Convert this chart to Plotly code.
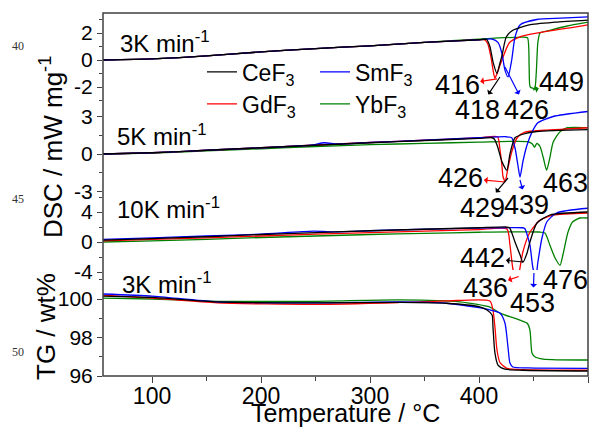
import plotly.graph_objects as go

# ---------------- data ----------------
# 3 K/min DSC
T_3K_Ce = [55,100,150,200,250,300,350,400,407,410,413,416.5,419,421,425,431,446,470,500]
D_3K_Ce = [0,0.08,0.3,0.6,0.85,1.05,1.3,1.5,1.52,1.0,-0.2,-1.0,-0.3,0.3,1.7,2.2,2.6,2.8,2.96]
T_3K_Gd = [55,100,150,200,250,300,350,400,405,408,411,413,414.6,417,421,428,437,450,468,485,500]
D_3K_Gd = [0,0.08,0.3,0.6,0.85,1.05,1.3,1.5,1.5,1.2,0.2,-0.8,-1.35,-0.9,0.0,1.3,1.7,1.95,2.2,2.4,2.6]
T_3K_Sm = [55,100,150,200,250,300,350,400,412,417.4,421,423.8,426.6,430,433,437.6,453,475,500]
D_3K_Sm = [0,0.08,0.3,0.6,0.85,1.05,1.3,1.5,1.55,1.3,0.5,-0.75,-1.25,0.0,1.7,2.6,3.0,3.1,3.2]
T_3K_Yb = [55,100,150,200,250,300,350,400,440,444.5,446,447,451,452.5,454,456,465,480,500]
D_3K_Yb = [0,0.08,0.3,0.6,0.85,1.05,1.3,1.55,1.7,1.65,-0.5,-2.0,-2.1,-1.0,1.3,2.0,2.2,2.5,2.8]

# 5 K/min DSC
T_5K_Ce = [55,100,150,200,250,300,350,400,412,414,417,421,425.6,428.4,433,441,453,500]
D_5K_Ce = [0,0.1,0.3,0.5,0.7,0.9,1.08,1.25,1.3,1.2,0.6,-0.6,-1.3,0,1.3,1.6,1.8,1.95]
T_5K_Gd = [55,100,150,200,250,300,350,400,417,419,421,422,424,426.6,430,435,442,460,480,500]
D_5K_Gd = [0,0.1,0.3,0.5,0.72,0.92,1.1,1.3,1.38,0.5,-0.9,-1.8,-2.2,-1.1,0.16,1.3,1.75,1.9,2.0,2.1]
T_5K_Sm = [55,100,150,200,245,258,270,300,350,400,425,430,433,435.7,437.6,440.3,444,448.6,454,468,500]
D_5K_Sm = [0,0.1,0.3,0.5,0.7,0.9,0.8,0.92,1.1,1.3,1.38,1.3,0.5,-0.9,-1.85,-0.6,0.7,1.75,2.5,3.0,3.4]
T_5K_Yb = [55,100,150,200,250,300,350,400,445,449,451,453,456,459,462,465,468,474,481,500]
D_5K_Yb = [0,0.08,0.25,0.42,0.6,0.75,0.85,0.95,0.98,0.8,0.55,0.85,0.6,-0.3,-1.3,-0.3,0.95,1.75,2.1,2.1]

# 10 K/min DSC
T_10K_Ce = [55,100,150,200,250,300,350,400,425,428,433,437.6,440.3,444,446.7,453,465,500]
D_10K_Ce = [0.25,0.45,0.7,1.0,1.25,1.5,1.7,1.9,2.0,1.9,0,-1.7,-2.7,-1.5,0,2.5,3.6,4.0]
T_10K_Gd = [55,100,150,200,250,300,350,400,425.6,428.4,431,434.8,436.5,440.3,446.7,455.8,468,500]
D_10K_Gd = [0.15,0.35,0.55,0.8,1.05,1.25,1.45,1.65,1.75,-0.4,-3.5,-5.5,-4.4,-1.3,1.3,2.9,3.6,3.87]
T_10K_Sm = [55,100,150,200,248,265,300,350,400,440,442,446.7,449.5,452.2,454,457.7,462.3,471.5,500]
D_10K_Sm = [0.35,0.55,0.8,1.05,1.45,1.35,1.5,1.7,1.85,1.9,1.8,-0.4,-3.5,-4.6,-2.7,0.5,2.7,3.9,4.5]
T_10K_Yb = [55,100,150,200,250,300,350,400,455,460.5,465,469.7,474.3,477,481.6,486,492.6,500]
D_10K_Yb = [0,0.15,0.35,0.6,0.8,1.0,1.15,1.3,1.33,1.2,-0.4,-2.1,-3.1,-1.7,1.3,2.7,3.2,3.2]

# 3 K/min TG
T_TG_Ce = [55,100,160,250,327,370,400,407.3,412,412.8,414.6,417.4,423.8,440,500]
W_TG_Ce = [100.15,100.08,99.85,99.8,99.82,99.78,99.6,99.43,99.17,98.55,97.2,96.57,96.36,96.3,96.26]
T_TG_Gd = [55,100,160,250,327,370,410,412.8,414.6,416.5,419.2,425.6,440,500]
W_TG_Gd = [100.2,100.05,99.8,99.72,99.82,99.9,99.9,99.43,98.55,97.35,96.7,96.4,96.33,96.3]
T_TG_Sm = [55,100,160,250,327,370,400,410,419.2,423.8,426.6,428.4,431,445,500]
W_TG_Sm = [100.26,100.15,99.85,99.8,99.85,99.78,99.55,99.43,99.27,98.75,97.5,96.67,96.47,96.42,96.4]
T_TG_Yb = [55,100,160,250,327,382.5,410,419.2,437.6,444,446.7,448.6,451.3,458.7,500]
W_TG_Yb = [100.05,100.0,99.88,99.88,99.95,99.85,99.58,99.27,98.9,98.75,98.4,97.2,97.0,96.88,96.83]

series_names = ["CeF<sub>3</sub>", "SmF<sub>3</sub>", "GdF<sub>3</sub>", "YbF<sub>3</sub>"]
x_ticks = [100, 200, 300, 400, 500]

# peak labels: (text, label_x, label_y, axis, arrow_tail_x, arrow_tail_y, colour or None)
peak_labels = [
    ("416", 380, -1.85, "y", 416.5, -1.4, "#ff0000"),
    ("418", 399, -3.7, "y", 419.2, -1.26, "#000000"),
    ("426", 444, -3.7, "y", 423.8, -0.52, "#0000ff"),
    ("449", 476, -1.63, "y", 449.5, -2.22, "#008000"),
    ("426", 383.4, -1.92, "y2", 423.8, -2.24, "#ff0000"),
    ("429", 403.6, -4.32, "y2", 426.6, -1.92, "#000000"),
    ("439", 444, -4.08, "y2", 437.6, -2.08, "#0000ff"),
    ("463", 479, -2.32, "y2", None, None, None),
    ("442", 403.6, -2.13, "y3", 440.3, -2.67, "#000000"),
    ("436", 405.5, -6.13, "y3", 436.5, -4.6, "#ff0000"),
    ("453", 449.5, -8.13, "y3", 450.4, -4.13, "#0000ff"),
    ("476", 479, -5.07, "y3", None, None, None),
]

COL = {"Ce": "#000000", "Sm": "#0000ff", "Gd": "#ff0000", "Yb": "#008000"}
FONT = "Liberation Sans, Arial, sans-serif"
AX = "#404040"

fig = go.Figure()

panels = [
    ("y", {"Ce": (T_3K_Ce, D_3K_Ce), "Sm": (T_3K_Sm, D_3K_Sm), "Gd": (T_3K_Gd, D_3K_Gd), "Yb": (T_3K_Yb, D_3K_Yb)}),
    ("y2", {"Ce": (T_5K_Ce, D_5K_Ce), "Sm": (T_5K_Sm, D_5K_Sm), "Gd": (T_5K_Gd, D_5K_Gd), "Yb": (T_5K_Yb, D_5K_Yb)}),
    ("y3", {"Ce": (T_10K_Ce, D_10K_Ce), "Sm": (T_10K_Sm, D_10K_Sm), "Gd": (T_10K_Gd, D_10K_Gd), "Yb": (T_10K_Yb, D_10K_Yb)}),
    ("y4", {"Ce": (T_TG_Ce, W_TG_Ce), "Sm": (T_TG_Sm, W_TG_Sm), "Gd": (T_TG_Gd, W_TG_Gd), "Yb": (T_TG_Yb, W_TG_Yb)}),
]
keys = ["Ce", "Sm", "Gd", "Yb"]
for pi, (yax, data) in enumerate(panels):
    for k in ["Yb", "Gd", "Sm", "Ce"]:
        tx, vy = data[k]
        idx = keys.index(k)
        fig.add_trace(go.Scatter(
            x=tx, y=vy, xaxis="x", yaxis=yax, mode="lines",
            line=dict(color=COL[k], width=1.3, shape="spline", smoothing=0.6),
            name=series_names[idx], legendgroup=k,
            showlegend=(pi == 0),
            legend="legend" if k in ("Ce", "Sm") else "legend2",
            legendrank=idx,
        ))

def ydom(top_px, bot_px):
    return [(376 - bot_px) / 363, (376 - top_px) / 363]

yaxis_common = dict(anchor="x", showgrid=False, zeroline=False, showline=False,
                    ticks="outside", ticklen=5, tickwidth=1.2, tickcolor=AX,
                    tickfont=dict(size=21, family=FONT, color="black"))

legend_common = dict(orientation="h", x=(202 - 103) / 485, xanchor="left", yanchor="middle",
                     bgcolor="rgba(0,0,0,0)", font=dict(size=23, family=FONT, color="black"),
                     entrywidth=68, entrywidthmode="pixels", itemwidth=30, traceorder="normal")

fig.update_layout(
    width=607, height=430,
    margin=dict(l=103, r=19, t=13, b=54),
    paper_bgcolor="white", plot_bgcolor="white",
    font=dict(family=FONT, color="black"),
    xaxis=dict(domain=[0, 1], anchor="y4", range=[55, 500], tickmode="array", tickvals=x_ticks,
               showgrid=False, zeroline=False, showline=False,
               ticks="outside", ticklen=6, tickwidth=1.2, tickcolor=AX, ticklabelstandoff=-7,
               tickfont=dict(size=23, family=FONT, color="black"),
               minor=dict(tickmode="array", tickvals=[150, 250, 350, 450], ticks="outside",
                          ticklen=4, tickwidth=1.2, tickcolor=AX)),
    yaxis=dict(domain=ydom(13, 120), range=[(60 - 120) / 13.5, (60 - 13) / 13.5],
               tickmode="array", tickvals=[-2, 0, 2], ticktext=["-2", "0", "2"],
               minor=dict(tickmode="array", tickvals=[-3, -1, 1, 3], ticks="outside", ticklen=3,
                          tickwidth=1.2, tickcolor=AX), **yaxis_common),
    yaxis2=dict(domain=ydom(100, 205), range=[(154 - 205) / 12.5, (154 - 100) / 12.5],
                tickmode="array", tickvals=[-3, 0, 3], ticktext=["-3", "0", "3"],
                minor=dict(tickmode="array", tickvals=[-1.5, 1.5], ticks="outside", ticklen=3,
                           tickwidth=1.2, tickcolor=AX), **yaxis_common),
    yaxis3=dict(domain=ydom(190, 295), range=[(242 - 295) / 7.5, (242 - 190) / 7.5],
                tickmode="array", tickvals=[-4, 0, 4], ticktext=["-4", "0", "4"],
                minor=dict(tickmode="array", tickvals=[-2, 2, 6], ticks="outside", ticklen=3,
                           tickwidth=1.2, tickcolor=AX), **yaxis_common),
    yaxis4=dict(domain=ydom(270, 376), range=[96, 100 + (299 - 270) / 19.25],
                tickmode="array", tickvals=[96, 98, 100], ticktext=["96", "98", "100"],
                minor=dict(tickmode="array", tickvals=[97, 99, 101], ticks="outside", ticklen=3,
                           tickwidth=1.2, tickcolor=AX), **yaxis_common),
    legend=dict(y=(376 - 72) / 363, **legend_common),
    legend2=dict(y=(376 - 104) / 363, **legend_common),
    shapes=[dict(type="rect", xref="paper", yref="paper", x0=0, x1=1, y0=0, y1=1,
                 line=dict(color=AX, width=1.5), layer="above")],
)

ann = []
# panel labels
for txt, xp, yp in [("3K min<sup>-1</sup>", 118, 42), ("5K min<sup>-1</sup>", 115, 135),
                    ("10K min<sup>-1</sup>", 115, 208), ("3K min<sup>-1</sup>", 120, 283)]:
    ann.append(dict(text=txt, xref="paper", yref="paper", x=(xp - 103) / 485, y=(376 - yp) / 363,
                    xanchor="left", yanchor="middle", showarrow=False, font=dict(size=24, family=FONT)))
# peak temperature labels, with arrows from the peak to the label
for txt, lx, ly, yr, tx, ty, c in peak_labels:
    if c is None:
        ann.append(dict(text=txt, xref="x", yref=yr, x=lx, y=ly, xanchor="center", yanchor="middle",
                        showarrow=False, font=dict(size=27, family=FONT)))
    else:
        ann.append(dict(text=txt, xref="x", yref=yr, x=tx, y=ty, axref="x", ayref=yr, ax=lx, ay=ly,
                        xanchor="center", yanchor="middle", showarrow=True, arrowside="start",
                        arrowhead=2, arrowsize=1, arrowwidth=1.2, arrowcolor=c,
                        standoff=0, startstandoff=0, borderpad=0,
                        font=dict(size=27, family=FONT)))
# axis titles
ann.append(dict(text="DSC / mW mg<sup>-1</sup>", xref="paper", yref="paper", x=(52 - 103) / 485,
                y=(376 - 147) / 363, textangle=-90, xanchor="center", yanchor="middle", showarrow=False,
                font=dict(size=26, family=FONT)))
ann.append(dict(text="TG / wt%", xref="paper", yref="paper", x=(46 - 103) / 485,
                y=(376 - 327) / 363, textangle=-90, xanchor="center", yanchor="middle", showarrow=False,
                font=dict(size=26, family=FONT)))
ann.append(dict(text="Temperature / °C", xref="paper", yref="paper", x=0.5, y=(376 - 413) / 363,
                xanchor="center", yanchor="middle", showarrow=False, borderpad=0,
                font=dict(size=25, family=FONT)))
# manuscript line numbers
for txt, yp in [("40", 46), ("45", 199), ("50", 352)]:
    ann.append(dict(text=txt, xref="paper", yref="paper", x=(18 - 103) / 485, y=(376 - yp) / 363,
                    xanchor="center", yanchor="middle", showarrow=False,
                    font=dict(size=12, family="Liberation Serif, serif", color="#333333")))
fig.update_layout(annotations=ann)

fig.write_html("out.html", config={"displayModeBar": False},
               post_script="document.body.style.margin='0px';")
